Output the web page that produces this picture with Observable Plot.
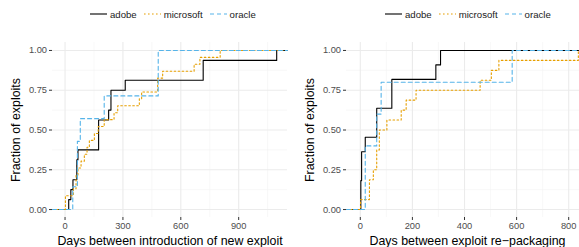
<!DOCTYPE html>
<html><head><meta charset="utf-8">
<script src="https://cdn.jsdelivr.net/npm/d3@7"></script>
<script src="https://cdn.jsdelivr.net/npm/@observablehq/plot@0.6"></script>
<style>
html,body{margin:0;padding:0;background:#fff;overflow:hidden;width:579px;height:247px}
body{font-family:"Liberation Sans",Arial,Helvetica,sans-serif}
.panel{position:absolute;top:0}
.legend{height:28px;display:flex;align-items:center;font-size:9.6px;color:#1a1a1a}
.legend svg{display:block;margin-right:3px}
.legend span{margin-right:7px}
</style></head><body>
<div id="left" class="panel" style="left:0;width:290px"></div>
<div id="right" class="panel" style="left:290px;width:298px"></div>
<script>
const vendors = ["adobe", "microsoft", "oracle"];
const vendorColors = ["#000000", "#E69F00", "#56B4E9"];
const vendorDash = [null, "1.6,2.4", "4,3"];

// Days between introduction of new exploit
const introAdobe = [19, 30, 41, 61, 61, 67, 174, 174, 174, 226, 238, 238, 312, 716, 716, 1097];
const introMicrosoft = [2, 2, 43, 57, 57, 67, 83, 100, 114, 126, 152, 172, 203, 254, 273, 385, 397, 480, 480, 506, 669, 699, 804];
const introOracle = [40, 64, 64, 79, 203, 483, 483];

// Days between exploit re-packaging
const repackAdobe = [2, 2, 5, 5, 19, 63, 63, 121, 121, 290, 308];
const repackMicrosoft = [1, 35, 35, 50, 63, 63, 73, 73, 102, 157, 176, 214, 460, 503, 532, 837];
const repackOracle = [19, 19, 63, 80, 583];

const yTicks = [0, 0.25, 0.5, 0.75, 1];
const yMinor = [0.125, 0.375, 0.625, 0.875];
const introTicks = [0, 300, 600, 900];
const introMinor = [150, 450, 750, 1050];
const repackTicks = [0, 200, 400, 600, 800];
const repackMinor = [100, 300, 500, 700];
const introDomain = [-65, 1153];
const repackDomain = [-53, 876];

function ecdf(days, domain) {
  const s = days.slice().sort((a, b) => a - b);
  const n = s.length;
  const pts = [{x: domain[0], y: 0}];
  const uniq = Array.from(new Set(s));
  for (const d of uniq) pts.push({x: d, y: s.filter(v => v <= d).length / n});
  pts.push({x: domain[1], y: 1});
  return pts;
}

function legend(offset) {
  const div = document.createElement("div");
  div.className = "legend";
  div.style.paddingLeft = offset + "px";
  vendors.forEach((v, i) => {
    const svg = d3.create("svg").attr("width", 17).attr("height", 10);
    svg.append("line").attr("x1", 0).attr("x2", 17).attr("y1", 5).attr("y2", 5)
      .attr("stroke", vendorColors[i]).attr("stroke-width", 1.1)
      .attr("stroke-dasharray", vendorDash[i]);
    div.appendChild(svg.node());
    const sp = document.createElement("span");
    sp.textContent = v;
    div.appendChild(sp);
  });
  return div;
}

function panel({series, domain, ticks, minor, title, width, marginLeft, marginRight, yLabelOffset}) {
  const marks = [
    Plot.ruleX(minor, {stroke: "#f3f3f3", strokeWidth: 0.6}),
    Plot.ruleY(yMinor, {stroke: "#f3f3f3", strokeWidth: 0.6}),
    Plot.ruleX(ticks, {stroke: "#ebebeb", strokeWidth: 1.1}),
    Plot.ruleY(yTicks, {stroke: "#ebebeb", strokeWidth: 1.1}),
  ];
  series.forEach((days, i) => {
    marks.push(Plot.line(ecdf(days, domain), {
      x: "x", y: "y", curve: "step-after",
      stroke: vendorColors[i], strokeWidth: 1.1,
      strokeDasharray: vendorDash[i] ?? undefined
    }));
  });
  marks.push(
    Plot.axisX(ticks, {tickSize: 3, tickPadding: 2, fontSize: 9.3, stroke: "#333", fill: "#4d4d4d", label: null, tickFormat: d => String(d)}),
    Plot.axisY(yTicks, {tickSize: 3, tickPadding: 2.5, fontSize: 9.3, stroke: "#333", fill: "#4d4d4d", label: null, tickFormat: d3.format(".2f")}),
    Plot.text([title], {text: d => d, frameAnchor: "bottom", textAnchor: "middle", lineAnchor: "middle", dy: 23.5, fontSize: 12.4, fill: "#000"}),
    Plot.text(["Fraction of exploits"], {text: d => d, frameAnchor: "left", textAnchor: "middle", lineAnchor: "middle", dx: -yLabelOffset, rotate: -90, fontSize: 12.4, fill: "#000"})
  );
  return Plot.plot({
    width, height: 219,
    marginTop: 14, marginBottom: 30, marginLeft, marginRight,
    style: {fontFamily: '"Liberation Sans", Arial, Helvetica, sans-serif', background: "#fff", overflow: "visible"},
    x: {domain, axis: null},
    y: {domain: [-0.05, 1.05], axis: null},
    marks
  });
}

const left = document.getElementById("left");
left.appendChild(legend(90));
left.appendChild(panel({
  series: [introAdobe, introMicrosoft, introOracle],
  domain: introDomain, ticks: introTicks, minor: introMinor,
  title: "Days between introduction of new exploit",
  width: 290, marginLeft: 52, marginRight: 3, yLabelOffset: 36
}));

const right = document.getElementById("right");
right.appendChild(legend(95));
right.appendChild(panel({
  series: [repackAdobe, repackMicrosoft, repackOracle],
  domain: repackDomain, ticks: repackTicks, minor: repackMinor,
  title: "Days between exploit re\u2212packaging",
  width: 298, marginLeft: 56, marginRight: 0, yLabelOffset: 36
}));
</script>
</body></html>
